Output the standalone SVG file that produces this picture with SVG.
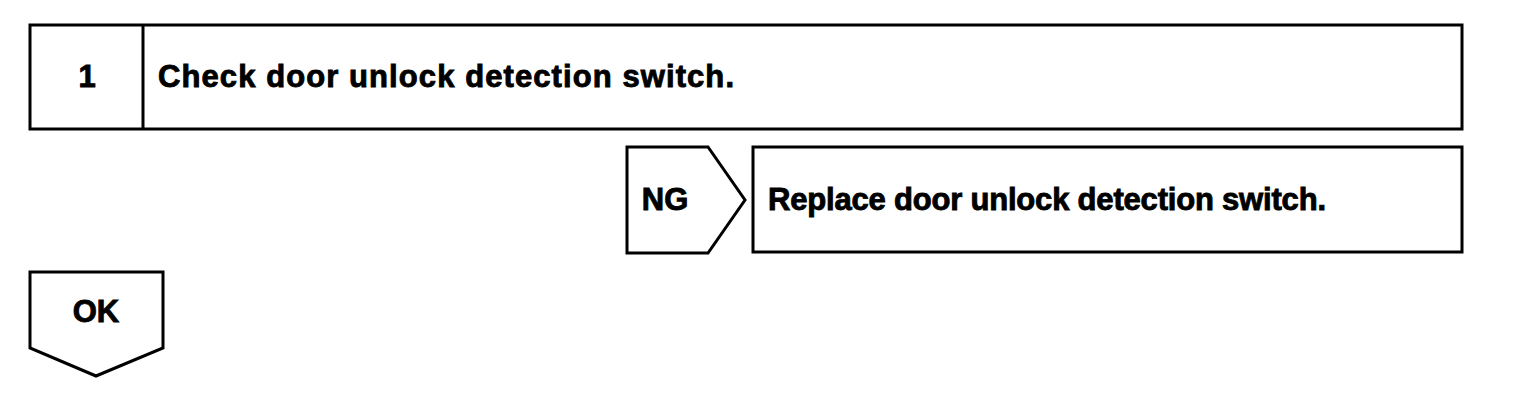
<svg xmlns="http://www.w3.org/2000/svg" width="1520" height="406" viewBox="0 0 1520 406">
<style>
.box{fill:#fff;stroke:#000;stroke-width:3;stroke-linejoin:miter}
.t{font-family:"Liberation Sans",Arial,sans-serif;font-weight:bold;font-size:31px;fill:#000;stroke:#000;stroke-width:0.9}
.c{text-anchor:middle}
</style>
<rect width="1520" height="406" fill="#fff"/>
<g id="step1">
<rect class="box" x="30" y="25" width="1432" height="104"/>
<line class="box" x1="143" y1="25" x2="143" y2="129"/>
<text class="t c" x="87" y="87">1</text>
<text class="t" x="158" y="87" textLength="576" lengthAdjust="spacing">Check door unlock detection switch.</text>
</g>
<g id="ng">
<polygon class="box" points="627,147 708,147 745,200 708,253 627,253"/>
<text class="t c" x="665" y="210">NG</text>
</g>
<g id="replace">
<rect class="box" x="753" y="147" width="709" height="105"/>
<text class="t" x="768" y="210" textLength="558" lengthAdjust="spacing">Replace door unlock detection switch.</text>
</g>
<g id="ok">
<polygon class="box" points="30,272 163,272 163,348 96,376 30,348"/>
<text class="t c" x="96" y="322">OK</text>
</g>
<g id="connectors"></g>
</svg>
